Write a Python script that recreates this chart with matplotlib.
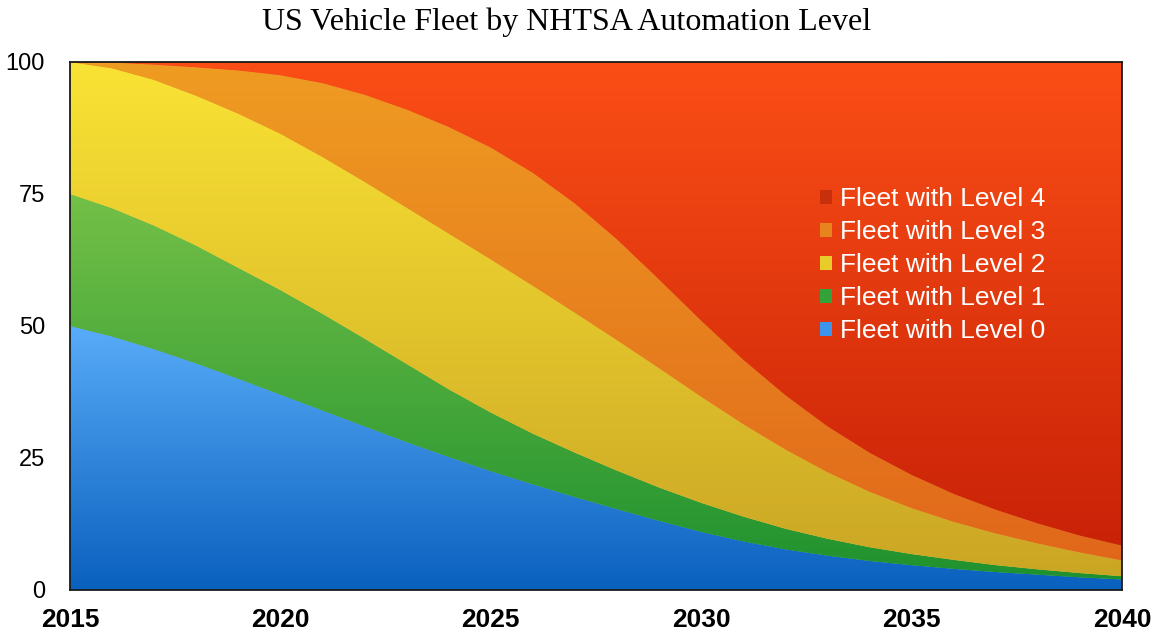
import numpy as np
import matplotlib
matplotlib.use("Agg")
import matplotlib.pyplot as plt
from matplotlib.colors import LinearSegmentedColormap
from matplotlib.patches import Patch

# ---- data (percent of fleet) ----
years = list(range(2015, 2041))
level0 = [50, 48.0, 45.6, 42.9, 40.0, 37.0, 34.0, 31.0, 28.0, 25.2, 22.5, 20.0, 17.6,
          15.3, 13.1, 11.0, 9.2, 7.7, 6.5, 5.5, 4.7, 4.0, 3.4, 2.9, 2.4, 2.0]
level1 = [25, 24.3, 23.4, 22.3, 21.0, 19.8, 18.3, 16.6, 14.8, 12.8, 11.1, 9.6, 8.4,
          7.3, 6.3, 5.5, 4.7, 3.9, 3.2, 2.6, 2.1, 1.7, 1.3, 1.0, 0.8, 0.6]
level2 = [25, 26.5, 27.6, 28.4, 29.2, 29.6, 29.7, 29.7, 29.6, 29.5, 29.0, 28.0, 26.5,
          24.7, 22.6, 20.1, 17.5, 15.0, 12.6, 10.5, 8.7, 7.2, 6.0, 4.9, 3.9, 3.0]
level3 = [0, 1.1, 2.9, 5.4, 8.2, 11.1, 14.0, 16.5, 18.6, 20.2, 21.2, 21.4, 20.7,
          19.1, 16.8, 14.4, 12.2, 10.3, 8.7, 7.4, 6.3, 5.3, 4.5, 3.8, 3.2, 2.8]
level4 = [0, 0.1, 0.5, 1.0, 1.6, 2.5, 4.0, 6.2, 9.0, 12.3, 16.2, 21.0, 26.8,
          33.6, 41.2, 49.0, 56.4, 63.1, 69.0, 74.0, 78.2, 81.8, 84.8, 87.4, 89.7, 91.6]
labels = ["Fleet with Level 0", "Fleet with Level 1", "Fleet with Level 2",
          "Fleet with Level 3", "Fleet with Level 4"]
x_ticks = [2015, 2020, 2025, 2030, 2035, 2040]
y_ticks = [0, 25, 50, 75, 100]
title = "US Vehicle Fleet by NHTSA Automation Level"

# ---- styles ----
top_colors = ["#58ACF8", "#74C047", "#FAE334", "#EF9C22", "#FB4E16"]
bot_colors = ["#0A60BE", "#1C902E", "#C9A424", "#E0641A", "#C41E06"]
mid_colors = ["#3A90E6", "#4AA93C", "#E2C62C", "#E8861E", "#E4400F"]
legend_colors = ["#3C94EC", "#34A23A", "#E8CC2A", "#E8841E", "#C8300C"]

W, H = 1157, 635
fig = plt.figure(figsize=(W / 100, H / 100), dpi=100)
fig.patch.set_facecolor("white")
ax = fig.add_axes([70 / W, 45 / H, 1052 / W, 528 / H])

series = [level0, level1, level2, level3, level4]
polys = ax.stackplot(years, *series, colors=mid_colors, linewidth=0, zorder=1)

cum = np.cumsum(np.array(series, dtype=float), axis=0)
for i, poly in enumerate(polys):
    ytop = min(100.0, float(cum[i].max()))
    grad = np.linspace(0, 1, 256).reshape(-1, 1)
    cmap = LinearSegmentedColormap.from_list("g%d" % i, [bot_colors[i], top_colors[i]])
    im = ax.imshow(grad, extent=[years[0], years[-1], 0, ytop], origin="lower",
                   aspect="auto", cmap=cmap, interpolation="bilinear", zorder=2)
    im.set_clip_path(poly.get_paths()[0], transform=ax.transData)

ax.set_xlim(years[0], years[-1])
ax.set_ylim(0, 100)
ax.set_xticks(x_ticks)
ax.set_xticklabels([str(t) for t in x_ticks], fontfamily="Liberation Sans",
                   fontweight="bold", fontsize=19)
ax.set_yticks(y_ticks)
ax.set_yticklabels([str(t) for t in y_ticks], fontfamily="Liberation Sans", fontsize=17)
ax.tick_params(axis="both", length=0, colors="black")
ax.tick_params(axis="x", pad=13)
ax.tick_params(axis="y", pad=18)
for sp in ax.spines.values():
    sp.set_linewidth(1.3)
    sp.set_color("#1a1a1a")
    sp.set_zorder(5)

handles = [Patch(facecolor=legend_colors[i], edgecolor="none", label=labels[i])
           for i in range(4, -1, -1)]
leg = ax.legend(handles=handles, loc="upper left", bbox_to_anchor=(0.713, 0.763),
                frameon=False, borderpad=0, borderaxespad=0,
                handlelength=0.45, handleheight=0.45, handletextpad=0.3,
                labelspacing=0.34,
                prop={"family": "Liberation Sans", "size": 19})
for t in leg.get_texts():
    t.set_color("white")
leg.set_zorder(6)

fig.text(566.5 / W, 1 - 22 / H, title, ha="center", va="center",
         fontfamily="Liberation Serif", fontsize=23)

fig.savefig("out.png", dpi=100, facecolor="white")
